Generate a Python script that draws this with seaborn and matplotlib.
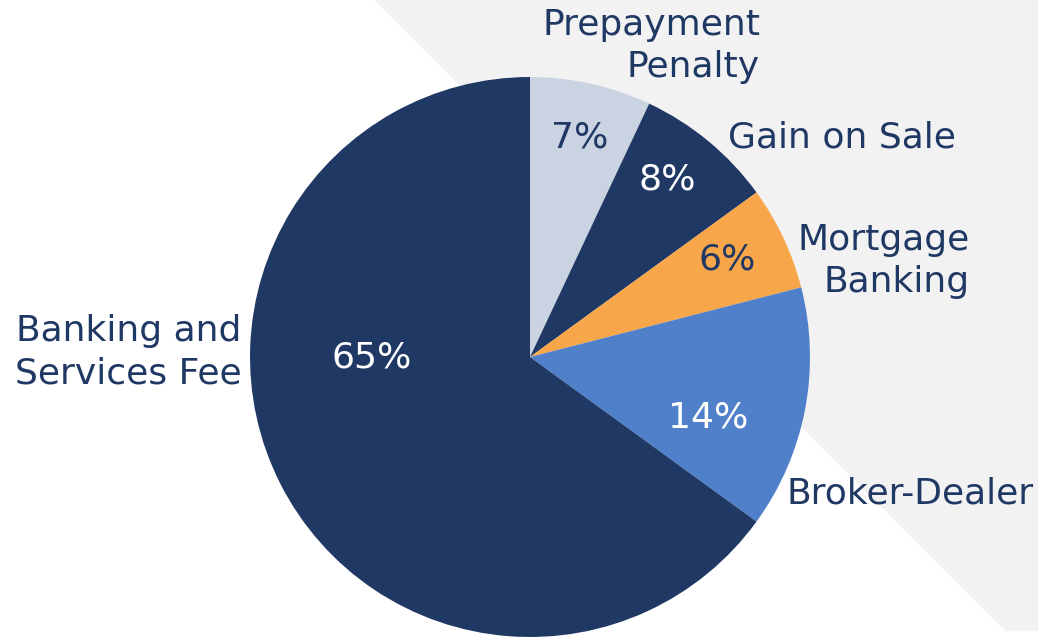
import matplotlib.pyplot as plt
import seaborn as sns

categories = ['Prepayment\nPenalty', 'Gain on Sale', 'Mortgage\nBanking',
              'Broker-Dealer', 'Banking and\nServices Fee']
shares = [7, 8, 6, 14, 65]
slice_colors = ['#c9d3e2', '#203864', '#f8a64a', '#4f80c9', '#203864']
pct_colors = ['#203864', 'white', '#203864', 'white', 'white']

navy = '#203864'

sns.set_style('white')
plt.rcParams['font.family'] = ['DejaVu Sans']

fig = plt.figure(figsize=(10.38, 6.37), dpi=100)
ax = fig.add_axes([0, 0, 1, 1])

# grey diagonal backdrop
ax.fill([375, 1038, 1038, 1005], [0, 0, 630, 630], color='#f2f2f2', zorder=0)

wedges, texts, autotexts = ax.pie(
    shares, colors=sns.color_palette(slice_colors), center=(530, 357),
    radius=280, startangle=-90, counterclock=True,
    autopct=lambda p: f'{p:.0f}%', pctdistance=0.8,
    wedgeprops=dict(linewidth=0), frame=True)
ax.set_xlim(0, 1038)
ax.set_ylim(637, 0)
ax.axis('off')

pct_pos = [(580, 137), (667, 180), (727, 260), (708, 418), (372, 357)]
for t, pos, c in zip(autotexts, pct_pos, pct_colors):
    t.set_position(pos)
    t.set_color(c)
    t.set_fontsize(26)

label_pos = [(760, 46, 'right', 'right'), (728, 138, 'left', 'left'),
             (970, 261, 'right', 'right'), (787, 493, 'left', 'left'),
             (242, 352, 'right', 'center')]
for t, lab, (x, y, ha, ma) in zip(texts, categories, label_pos):
    t.set_visible(False)
    ax.text(x, y, lab, ha=ha, va='center', multialignment=ma,
            fontsize=26, color=navy, linespacing=1.3)

fig.savefig('out.png', dpi=100)
